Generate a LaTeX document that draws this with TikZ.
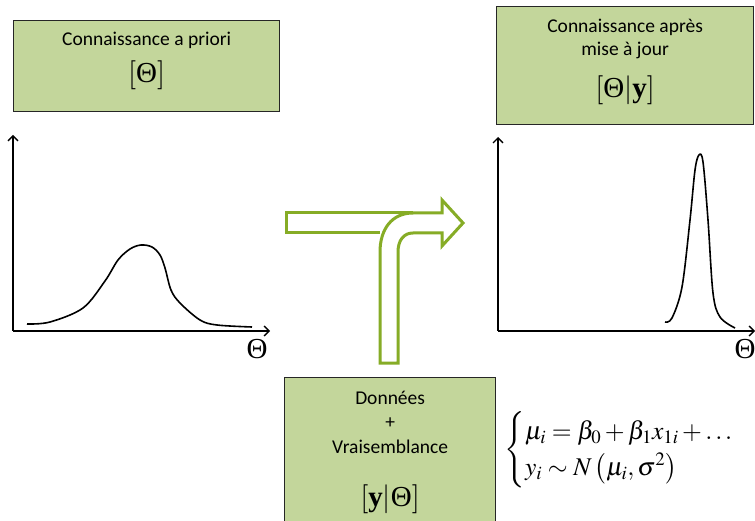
\documentclass[tikz,border=0pt]{standalone}
\usepackage{amsmath}
\usepackage{mathptmx}
\usepackage[no-math]{fontspec}
\setmainfont{Carlito}
\newfontfamily\timesfont{Liberation Serif}
\usetikzlibrary{arrows.meta,positioning}
\definecolor{BoxGreen}{RGB}{195,214,155}
\definecolor{ArrowGreen}{RGB}{134,172,38}
\tikzset{
  knowbox/.style={draw=black!85, line width=1.3pt, fill=BoxGreen, align=center,
    anchor=north west, inner sep=0pt, font=\fontsize{19.5}{23}\selectfont},
  axisline/.style={-{Straight Barb[length=5pt,width=10pt]}, line width=1.3pt},
  density/.style={line width=1.6pt, smooth, tension=0.55},
  thetalabel/.style={font=\fontsize{29}{29}\selectfont, inner sep=0pt},
  bigarrow/.style={draw=ArrowGreen, line width=3pt, fill=white, line join=miter}
}
\newcommand{\bigmath}[1]{{\fontsize{29}{29}\selectfont$#1$}}
\newcommand{\Thet}{\text{\timesfont Θ}}
\newcommand{\yvec}{\text{\timesfont\bfseries y}}

\begin{document}
\begin{tikzpicture}[x=1pt, y=-1pt]
  \useasboundingbox (0,0) rectangle (755,521);
  \node[knowbox, minimum width=266pt, minimum height=91pt] (prior) at (13,20)
    {Connaissance a priori\\[11pt]\bigmath{\left[\Thet\right]}\\[-5pt]};
  \node[knowbox, minimum width=257pt, minimum height=118pt] (post) at (496,6)
    {Connaissance après\\mise à jour\\[16pt]\bigmath{\left[\Thet\middle|\yvec\right]}\\[-9pt]};
  \node[knowbox, minimum width=211pt, minimum height=150pt,
    font=\fontsize{19.5}{24.5}\selectfont] (data) at (284,377)
    {Données\\+\\Vraisemblance\\[29pt]\bigmath{\left[\yvec\middle|\Thet\right]}};
  \node[anchor=west, font=\fontsize{25.5}{30}\selectfont] (model) at (501,450)
    {$\begin{cases}\mu_i=\beta_0+\beta_1x_{1i}+\ldots\\ y_i\sim N\left(\mu_i,\sigma^2\right)\end{cases}$};

  \coordinate (o1) at (13,331);
  \draw[axisline] (o1) -- (13,135);
  \draw[axisline] (o1) -- (270,331);
  \node[thetalabel] (theta1) at (257,349) {$\Thet$};
  \draw[density] plot coordinates {(27,324) (50,322) (83,308) (105,281) (118,260)
    (130,249) (141,245) (152,247) (160,255) (165,268) (171,290) (180,303) (200,320)
    (217,325) (252,327)};

  \coordinate (o2) at (498,331);
  \draw[axisline] (o2) -- (498,137);
  \draw[axisline] (o2) -- (755,331);
  \node[thetalabel] (theta2) at (745,349) {$\Thet$};
  \draw[density] plot coordinates {(665,322) (672,318) (682,287) (690,220) (695,170)
    (699,155) (703,162) (708,220) (713,293) (720,317) (735,328)};

  \fill[white] (286,213) rectangle (413,233);
  \draw[bigarrow, fill=none] (413,213) -- (286,213) -- (286,233) -- (380,233);
  \draw[bigarrow] (380,363) -- (380,252) .. controls (380,229) and (392,213) .. (413,213)
    -- (442,213) -- (442,200) -- (463,223) -- (442,246) -- (442,233) -- (413,233)
    .. controls (404,233) and (398,240) .. (398,252) -- (398,363) -- cycle;
\end{tikzpicture}
\end{document}
